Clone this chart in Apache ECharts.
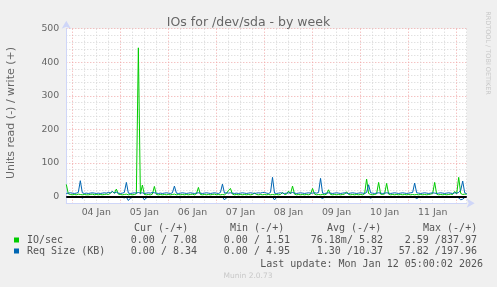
<!DOCTYPE html>
<html>
<head>
<meta charset="utf-8">
<script src="https://cdn.jsdelivr.net/npm/echarts@6/dist/echarts.min.js"></script>
<style>html,body{margin:0;padding:0;background:#f0f0f0;}#c{width:497px;height:287px;}</style>
</head>
<body>
<div id="c"></div>
<script>
// Hourly samples from Jan 3 21:00 (hour -3 relative to Jan 4 00:00) to Jan 12 05:00 (hour 197)
const startHour = -3;
const dayLabels = ['04 Jan','05 Jan','06 Jan','07 Jan','08 Jan','09 Jan','10 Jan','11 Jan'];
const yTickLabels = [0,100,200,300,400,500];

// IO/sec write (+)
const ioWrite = [
  36,8,6,
  5,6,5,7,6,5,6,5,5,6,7,5,6,5,6,5,6,7,6,9,15,10,22,7,
  6,5,6,7,5,6,5,6,8,443,7,34,6,5,6,5,7,30,6,5,6,5,6,5,
  6,5,6,7,5,6,5,6,5,6,5,6,7,5,8,27,6,5,6,5,6,5,6,7,
  5,6,5,6,5,9,18,24,7,5,6,5,6,5,6,5,6,5,6,10,6,5,6,5,
  6,5,6,5,6,5,6,5,6,12,6,7,16,8,31,7,5,6,5,6,5,6,5,7,
  24,7,5,6,5,6,5,7,20,6,5,6,5,6,5,6,7,14,6,5,6,5,6,5,
  6,5,8,52,9,6,5,6,8,42,7,6,8,39,7,5,6,5,6,5,6,5,6,5,
  6,5,6,5,6,5,6,5,6,5,6,7,9,42,7,5,6,5,6,5,6,7,6,15,
  8,57,9,6,7,7.08
];
// Req Size (KB) write (+)
const reqWrite = [
  9,10,11,
  10,9,10,12,47,11,9,10,9,10,11,10,9,10,9,10,11,10,12,11,15,10,13,10,
  9,10,12,42,10,9,10,11,10,12,10,11,9,10,11,10,12,11,10,9,10,9,10,11,
  10,9,11,31,10,9,10,11,10,9,10,11,10,9,10,11,10,9,10,11,10,9,10,11,
  10,9,12,37,10,11,10,11,10,9,10,9,10,11,10,9,10,11,10,9,10,11,10,12,
  12,10,9,12,57,10,9,10,11,10,9,10,11,10,12,10,9,10,11,10,9,10,11,10,
  10,11,10,12,54,10,9,10,11,10,9,10,11,10,9,10,11,10,9,10,11,10,9,10,
  11,10,9,12,35,11,10,9,10,11,10,9,10,11,10,9,10,11,10,9,10,11,10,9,
  10,11,12,40,11,10,9,10,11,10,9,10,11,10,9,10,11,10,9,10,11,10,9,11,
  10,12,18,46,11,8.34
];
// Req Size (KB) read (-), drawn below zero
const reqRead = [
  -1,-2,-1,
  -2,-1,-3,-2,-1,-5,-2,-1,-2,-3,-1,-2,-1,-2,-3,-1,-2,-1,-2,-3,-2,-3,-2,-1,
  -2,-3,-4,-2,-12,-5,-3,-2,-1,-2,-3,-2,-10,-4,-2,-1,-3,-2,-1,-2,-1,-2,-3,-1,
  -2,-1,-2,-3,-2,-3,-4,-2,-1,-2,-1,-2,-3,-1,-2,-1,-2,-3,-2,-1,-2,-1,-3,-2,
  -1,-2,-3,-2,-10,-4,-2,-1,-2,-3,-1,-2,-1,-2,-1,-2,-3,-1,-2,-1,-2,-1,-2,-3,
  -2,-1,-2,-3,-2,-10,-3,-2,-1,-2,-1,-2,-3,-1,-2,-1,-2,-1,-3,-2,-1,-2,-1,-2,
  -1,-2,-3,-2,-3,-6,-2,-1,-2,-1,-2,-3,-1,-2,-1,-2,-1,-2,-3,-1,-2,-1,-2,-1,
  -2,-1,-2,-3,-2,-5,-2,-1,-2,-1,-2,-3,-2,-1,-2,-1,-2,-3,-1,-2,-1,-2,-1,-2,
  -1,-2,-3,-2,-6,-3,-2,-1,-2,-1,-2,-3,-1,-2,-1,-2,-1,-2,-3,-1,-2,-1,-2,-3,
  -2,-4,-10,-8,-3,0
];

const hours = ioWrite.map((_, i) => startHour + i);
const pairs = arr => arr.map((v, i) => [hours[i], v]);

const GREEN = '#00cc00', BLUE = '#0066b3';
const FONT = '#666666';
const GRID = '#d4d4d4', MGRID = '#f0a8a8', T = 'rgba(0,0,0,0)';

const chart = echarts.init(document.getElementById('c'), null, {renderer: 'canvas'});
const mono = '"DejaVu Sans Mono", monospace';
const txt = (x, y, s, opt) => Object.assign({type: 'text', x, y, style: Object.assign({text: s, fill: '#555', font: '10px ' + mono, textAlign: 'left', textVerticalAlign: 'middle'}, opt || {})});

chart.setOption({
  backgroundColor: '#f0f0f0',
  animation: false,
  title: {
    text: 'IOs for /dev/sda - by week',
    left: 'center', top: 11,
    textStyle: {fontFamily: 'DejaVu Sans', fontSize: 12.5, fontWeight: 'normal', color: FONT}
  },
  grid: {left: 66.3, right: 30.3, top: 28.7, bottom: 83.8, show: true, backgroundColor: '#ffffff', borderWidth: 0, outerBoundsMode: 'none', containLabel: false},
  xAxis: {
    type: 'value', min: -3, max: 197, interval: 3,
    axisLine: {show: true, onZero: false, lineStyle: {color: '#cfd6f8', width: 1}, symbol: ['none', 'arrow'], symbolSize: [7, 8], symbolOffset: [0, 8]},
    axisTick: {show: false},
    axisLabel: {
      margin: 5, fontFamily: 'DejaVu Sans', fontSize: 9.4, color: FONT,
      showMinLabel: true, showMaxLabel: false,
      formatter: v => { const m = ((v % 24) + 24) % 24; if (m !== 12) return ''; const d = (v - 12) / 24; return dayLabels[d] || ''; }
    },
    splitLine: {show: true, lineStyle: {color: [T, MGRID, T, GRID, T, GRID, T, GRID], width: 1, type: [1, 2]}}
  },
  yAxis: {
    type: 'value', min: -20, max: 500, interval: 20,
    axisLine: {show: true, onZero: false, lineStyle: {color: '#cfd6f8', width: 1}, symbol: ['none', 'arrow'], symbolSize: [7, 8], symbolOffset: [0, 8]},
    axisTick: {show: false},
    axisLabel: {
      margin: 7, fontFamily: 'DejaVu Sans', fontSize: 9.4, color: FONT,
      formatter: v => yTickLabels.indexOf(v) >= 0 ? String(v) : ''
    },
    splitLine: {show: true, lineStyle: {color: [GRID, MGRID, GRID, GRID, GRID], width: 1, type: [1, 2]}}
  },
  series: [
    {name: 'IO/sec', type: 'line', data: pairs(ioWrite), showSymbol: false, symbol: 'none', lineStyle: {color: GREEN, width: 1}, itemStyle: {color: GREEN}, z: 2},
    {name: 'Req Size (KB) read', type: 'line', data: pairs(reqRead), showSymbol: false, symbol: 'none', lineStyle: {color: BLUE, width: 1}, itemStyle: {color: BLUE}, z: 3},
    {name: 'Req Size (KB)', type: 'line', data: pairs(reqWrite), showSymbol: false, symbol: 'none', lineStyle: {color: BLUE, width: 1}, itemStyle: {color: BLUE}, z: 3,
      markLine: {silent: true, symbol: 'none', label: {show: false}, lineStyle: {color: '#000', width: 2, type: 'solid'}, data: [{yAxis: 0}], z: 5}}
  ],
  graphic: [
    {type: 'text', x: 11, y: 113, rotation: Math.PI / 2, style: {text: 'Units read (-) / write (+)', fill: FONT, font: '11px "DejaVu Sans"', textAlign: 'center', textVerticalAlign: 'middle'}},
    {type: 'text', x: 488, y: 53, rotation: -Math.PI / 2, style: {text: 'RRDTOOL / TOBI OETIKER', fill: '#c8c8c8', font: '6.5px "DejaVu Sans"', textAlign: 'center', textVerticalAlign: 'middle'}},
    txt(134, 228, 'Cur (-/+)'),
    txt(230, 228, 'Min (-/+)'),
    txt(327, 228, 'Avg (-/+)'),
    txt(423, 228, 'Max (-/+)'),
    {type: 'rect', shape: {x: 14, y: 237.5, width: 5, height: 5}, style: {fill: GREEN}},
    {type: 'rect', shape: {x: 14, y: 248.5, width: 5, height: 5}, style: {fill: BLUE}},
    txt(27, 240, 'IO/sec'),
    txt(197, 240, '0.00 / 7.08', {textAlign: 'right'}),
    txt(290, 240, '0.00 / 1.51', {textAlign: 'right'}),
    txt(383, 240, '76.18m/ 5.82', {textAlign: 'right'}),
    txt(477, 240, '2.59 /837.97', {textAlign: 'right'}),
    txt(27, 251.5, 'Req Size (KB)'),
    txt(197, 251.5, '0.00 / 8.34', {textAlign: 'right'}),
    txt(290, 251.5, '0.00 / 4.95', {textAlign: 'right'}),
    txt(383, 251.5, '1.30 /10.37', {textAlign: 'right'}),
    txt(477, 251.5, '57.82 /197.96', {textAlign: 'right'}),
    txt(483, 264, 'Last update: Mon Jan 12 05:00:02 2026', {textAlign: 'right'}),
    {type: 'text', x: 248, y: 276, style: {text: 'Munin 2.0.73', fill: '#c8c8c8', font: '7.5px "DejaVu Sans"', textAlign: 'center', textVerticalAlign: 'middle'}}
  ]
});
</script>
</body>
</html>
